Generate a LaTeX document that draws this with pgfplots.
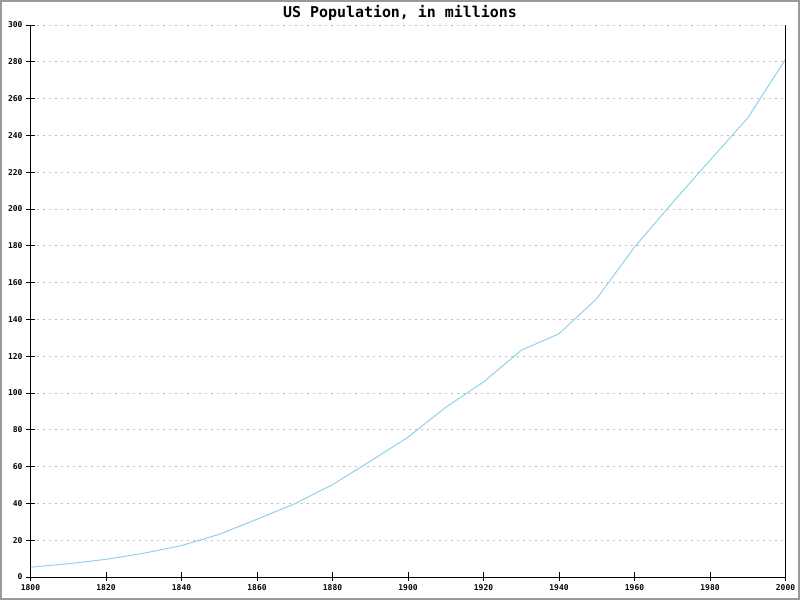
\documentclass[border=0pt]{standalone}
\usepackage{pgfplots}
\pgfplotsset{compat=1.18}
\usepackage{fontspec}
\setmainfont{DejaVu Sans Mono}
\setmonofont{DejaVu Sans Mono}
\definecolor{lineblue}{RGB}{135,206,235}
\definecolor{gridgray}{RGB}{190,190,190}
\begin{document}
\begin{tikzpicture}[x=1bp,y=1bp]
\fill[white] (0,0) rectangle (800,600);
\draw[gray!80, line width=2bp] (1,1) rectangle (799,599);
\node[font=\fontsize{15}{17}\selectfont\bfseries] at (400,587) {US Population, in millions};
\begin{axis}[
  at={(30.5bp,23bp)}, anchor=south west,
  scale only axis, width=755bp, height=552bp,
  xmin=1800, xmax=2000, ymin=0, ymax=300,
  xtick={1800,1820,...,2000}, ytick={0,20,...,300},
  axis lines*=left,
  axis line style={black, line width=0.8bp, -},
  tick style={black, line width=0.8bp},
  xtick align=center, ytick align=center,
  major tick length=9bp,
  ymajorgrids, grid style={gridgray, dashed, dash pattern=on 2bp off 4bp, line width=0.8bp},
  tick label style={font=\fontsize{8}{9}\selectfont\bfseries},
  /pgf/number format/.cd, 1000 sep={}, assume math mode=true,
  /pgfplots/.cd,
  clip=false,
]
\addplot[lineblue, line width=0.9bp] coordinates {
(1800,5.3) (1810,7.2) (1820,9.6) (1830,12.9) (1840,17.1) (1850,23.2)
(1860,31.4) (1870,39.8) (1880,50.2) (1890,62.9) (1900,76.0) (1910,92.2)
(1920,106.0) (1930,123.2) (1940,132.2) (1950,151.3) (1960,179.3)
(1970,203.3) (1980,226.5) (1990,249.5) (2000,281.4)};
\draw[black, line width=0.8bp] (axis cs:2000,0) -- (axis cs:2000,300);
\end{axis}
\end{tikzpicture}
\end{document}
